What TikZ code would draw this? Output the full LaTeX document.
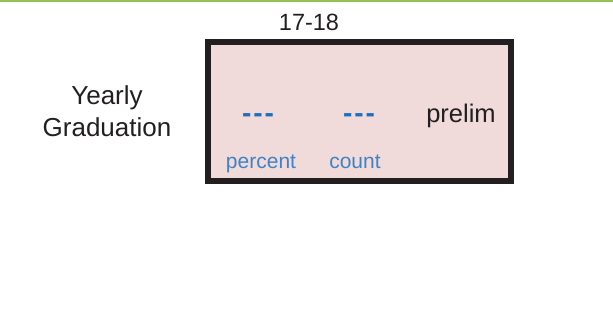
\documentclass[tikz,border=0pt]{standalone}
\usepackage{fontspec}
\setmainfont{Liberation Sans}
\usepackage{xcolor}
\usetikzlibrary{positioning}
\definecolor{barGreen}{HTML}{92C353}
\definecolor{cardPink}{HTML}{F0DADA}
\definecolor{inkGrey}{HTML}{231F20}
\definecolor{valBlue}{HTML}{1F6FBF}
\definecolor{capBlue}{HTML}{3F83C6}

\begin{document}
\begin{tikzpicture}[x=1pt, y=-1pt, inner sep=0pt, outer sep=0pt]
            \useasboundingbox (0,0) rectangle (613,322);
            \fill [barGreen] (0,0) rectangle (613,2);

            \node (card) [rectangle, draw=inkGrey, line width=6pt, fill=cardPink, minimum width=303pt, minimum height=139pt] at (359.5,111.5) {};
            \node (year) [text=inkGrey, anchor=base, font=\fontsize{23.5}{28}\selectfont] at (309,30) {17-18};

            \node (yearly) [text=inkGrey, anchor=base, font=\fontsize{26}{32}\selectfont] at (107,104) {Yearly};
            \node (grad) [text=inkGrey, anchor=base, font=\fontsize{26}{32}\selectfont] at (107,136) {Graduation};

            \node (pctval) [text=valBlue, anchor=base, font=\fontsize{28}{32}\bfseries] at (258,122) {-\hspace{2pt}-\hspace{2pt}-};
            \node (cntval) [text=valBlue, anchor=base, font=\fontsize{28}{32}\bfseries] at (359,122) {-\hspace{2pt}-\hspace{2pt}-};
            \node (prelim) [text=inkGrey, anchor=base, font=\fontsize{25.5}{30}\selectfont] at (461,122) {prelim};

            \node (pct) [text=capBlue, anchor=base, font=\fontsize{21}{25}\selectfont] at (261,168) {percent};
            \node (cnt) [text=capBlue, anchor=base, font=\fontsize{21}{25}\selectfont] at (355,168) {count};
        \end{tikzpicture}
\end{document}
